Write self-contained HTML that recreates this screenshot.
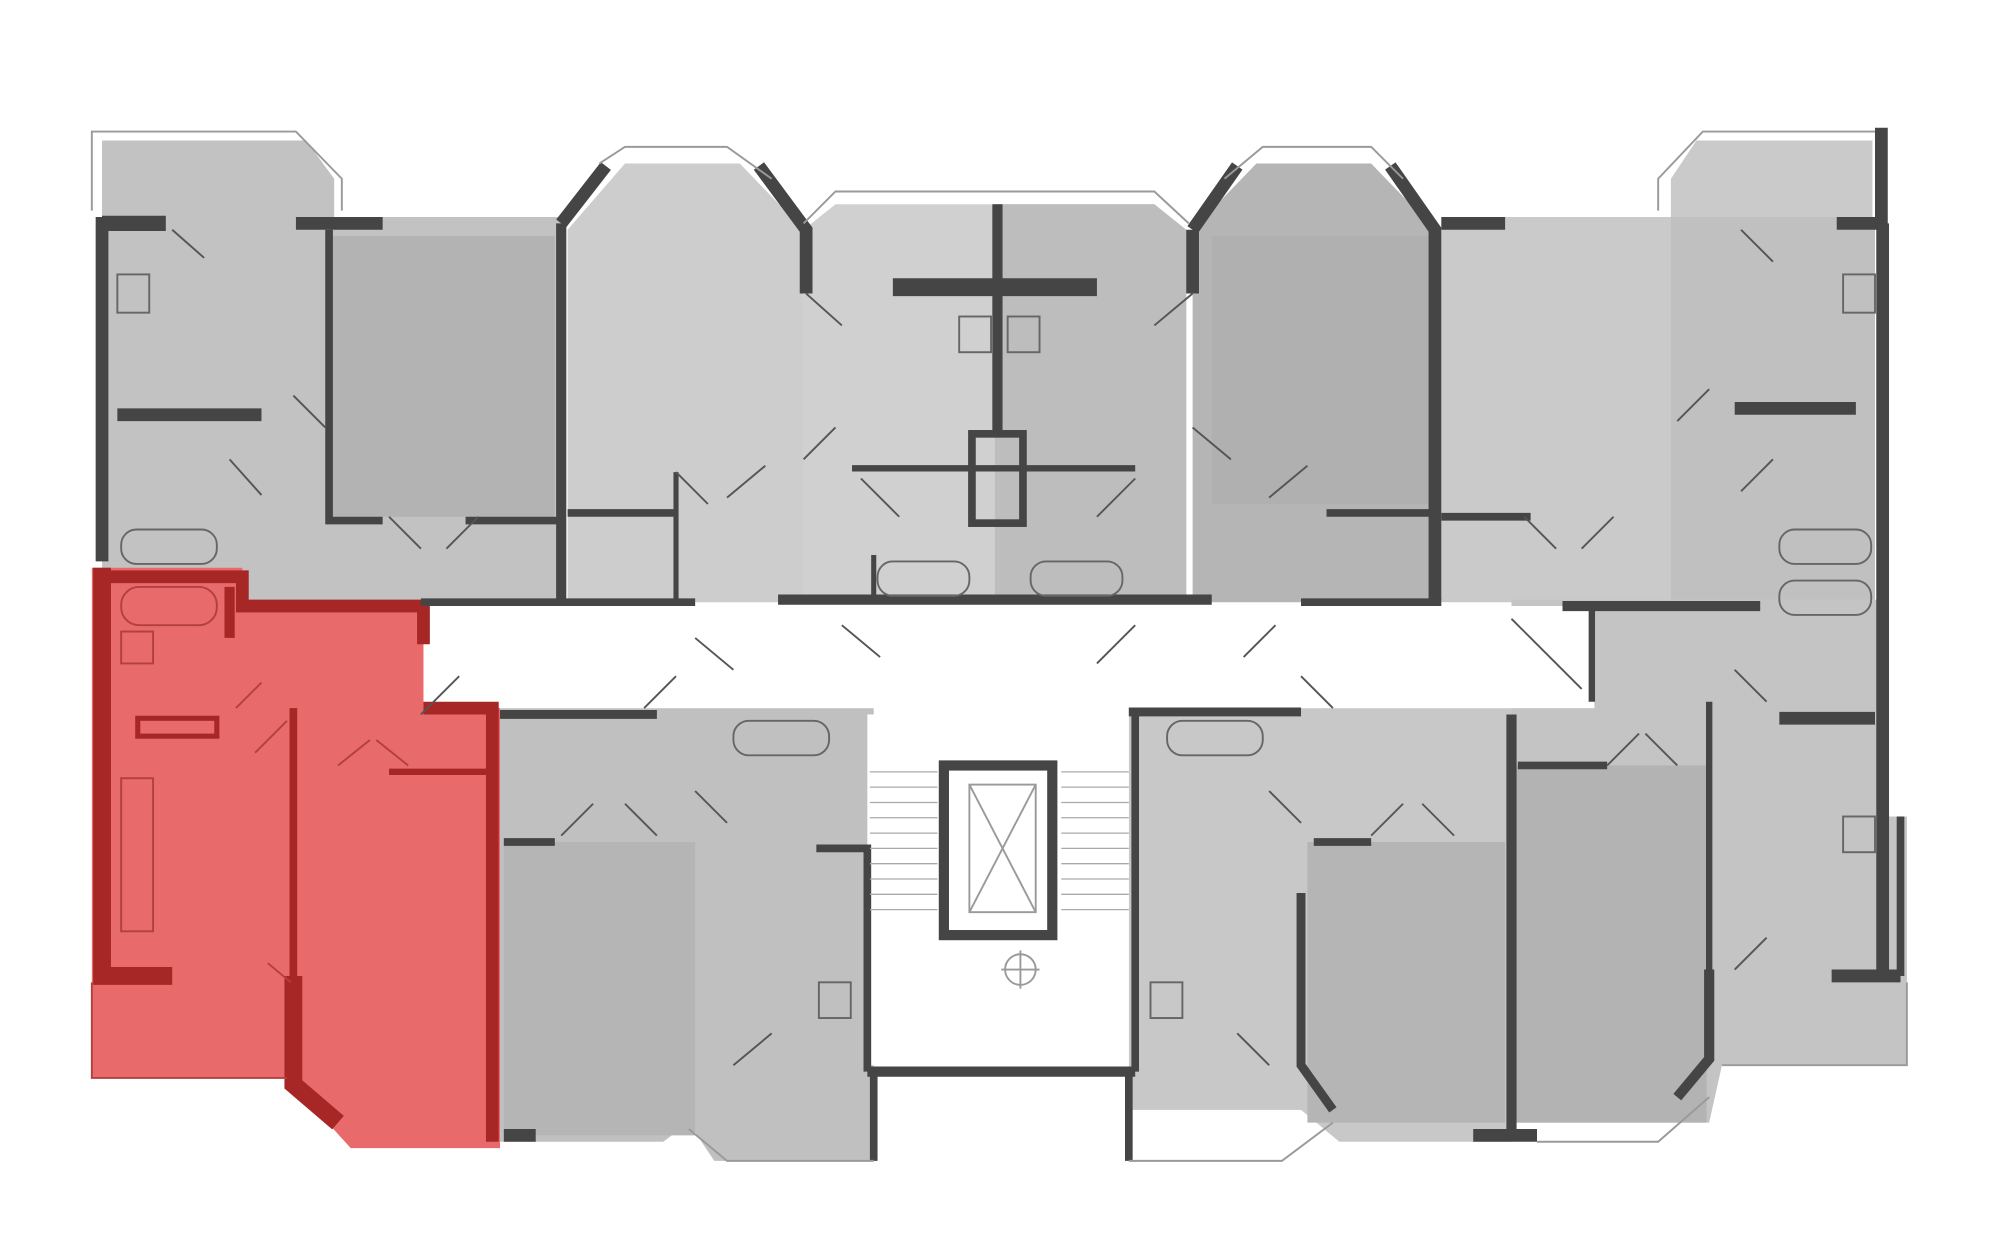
<!DOCTYPE html>
<html><head><meta charset="utf-8"><style>
html,body{margin:0;padding:0;background:#fff;width:2000px;height:1258px;overflow:hidden}
svg{display:block}
</style></head><body>
<svg width="2000" height="1258" viewBox="0 0 1568 986" xmlns="http://www.w3.org/2000/svg">
<rect width="1568" height="986" fill="#fff"/>
<g fill="#c2c2c2">
  <polygon points="80,110 240,110 262,140 262,170 440,170 440,472 80,472"/>
  <polygon points="445,180 490,128 580,128 630,180 630,472 445,472" fill="#cdcdcd"/>
  <polygon points="630,180 655,160 905,160 930,180 930,472 630,472" fill="#d0d0d0"/>
  <polygon points="780,160 905,160 930,180 930,472 780,472" fill="#bdbdbd"/>
  <polygon points="935,180 985,128 1075,128 1125,180 1125,472 935,472" fill="#b5b5b5"/>
  <polygon points="1130,170 1310,170 1310,140 1330,110 1468,110 1468,472 1130,472" fill="#cacaca"/>
  <rect x="1310" y="170" width="160" height="300" fill="#c0c0c0"/>
  <polygon points="392,555 685,555 685,910 560,910 540,880 520,895 392,895" fill="#c0c0c0"/>
  <rect x="395" y="660" width="150" height="230" fill="#b5b5b5"/>
  <polygon points="885,555 1185,555 1185,895 1050,895 1020,870 885,870" fill="#c8c8c8"/>
  <rect x="1025" y="660" width="155" height="220" fill="#b5b5b5"/>
  <polygon points="1185,470 1478,470 1478,640 1495,640 1495,835 1350,835 1340,880 1185,880" fill="#c4c4c4"/>
  <rect x="1188" y="600" width="150" height="280" fill="#b3b3b3"/>
  <rect x="260" y="185" width="175" height="220" fill="#b3b3b3"/>
</g>
<rect x="950" y="185" width="170" height="210" fill="#b0b0b0"/>
<polygon points="330,475 1250,475 1250,555 330,555" fill="#fff"/>
<rect x="680" y="560" width="205" height="275" fill="#fff"/>
<polygon points="72,445 190,445 190,475 332,475 332,555 392,555 392,900 275,900 225,845 72,845" fill="#e86a6a"/>
<g fill="none" stroke="#a72626">
  <polyline points="80,445 80,765 135,765" stroke-width="14"/>
  <polyline points="80,452 190,452 190,475 332,475 332,505" stroke-width="10"/>
  <polyline points="332,555 386,555 386,895" stroke-width="10"/>
  <line x1="230" y1="555" x2="230" y2="765" stroke-width="6"/>
  <polyline points="230,765 230,850 265,880" stroke-width="14"/>
  <polyline points="305,605 384,605" stroke-width="5"/>
  <rect x="108" y="563" width="62" height="14" stroke-width="4"/>
  <line x1="180" y1="460" x2="180" y2="500" stroke-width="8"/>
</g>
<g fill="none" stroke="#b24040" stroke-width="1.5">
  <rect x="95" y="460" width="75" height="30" rx="14"/>
  <rect x="95" y="495" width="25" height="25"/>
  <rect x="95" y="610" width="25" height="120"/>
  <polyline points="72,770 72,845 225,845"/>
  <line x1="185" y1="555" x2="205" y2="535"/>
  <line x1="200" y1="590" x2="225" y2="565"/>
  <line x1="265" y1="600" x2="290" y2="580"/>
  <line x1="295" y1="580" x2="320" y2="600"/>
  <line x1="210" y1="755" x2="228" y2="770"/>
</g>
<g fill="none" stroke="#454545" stroke-linejoin="miter">
  <polyline points="80,170 80,440" stroke-width="10"/>
  <polyline points="80,175 130,175" stroke-width="12"/>
  <polyline points="232,175 300,175 M390,175 440,175" stroke-width="10"/>
  <polyline points="258,180 258,408 300,408" stroke-width="6"/>
  <polyline points="365,408 438,408" stroke-width="6"/>
  <polyline points="440,175 440,470" stroke-width="8"/>
  <polyline points="440,175 475,130" stroke-width="10"/>
  <polyline points="595,130 632,180 632,230" stroke-width="10"/>
  <polyline points="445,402 528,402" stroke-width="6"/>
  <polyline points="530,370 530,470" stroke-width="4"/>
  <line x1="782" y1="160" x2="782" y2="340" stroke-width="8"/>
  <line x1="700" y1="225" x2="860" y2="225" stroke-width="14"/>
  <line x1="668" y1="367" x2="890" y2="367" stroke-width="5"/>
  <rect x="762" y="340" width="40" height="70" stroke-width="6"/>
  <polyline points="685,435 685,470 M880,435 880,470" stroke-width="4"/>
  <polyline points="610,470 950,470" stroke-width="8"/>
  <polyline points="935,180 970,130" stroke-width="10"/>
  <polyline points="1090,130 1125,180 1125,470" stroke-width="10"/>
  <polyline points="935,180 935,230" stroke-width="10"/>
  <polyline points="1040,402 1125,402" stroke-width="6"/>
  <polyline points="1130,175 1180,175 M1265,175 1360,175" stroke-width="10"/>
  <polyline points="1130,405 1200,405 M1265,405 1312,405 1312,185" stroke-width="6"/>
  <polyline points="1440,175 1475,175 1475,100" stroke-width="10"/>
  <polyline points="1476,175 1476,760" stroke-width="10"/>
  <polyline points="1436,765 1490,765" stroke-width="10"/>
  <polyline points="1490,640 1490,765" stroke-width="6"/>
  <polyline points="1225,475 1380,475" stroke-width="8"/>
  <polyline points="1248,475 1248,550" stroke-width="5"/>
  <line x1="330" y1="472" x2="545" y2="472" stroke-width="6"/>
  <line x1="1020" y1="472" x2="1130" y2="472" stroke-width="6"/>
  <line x1="1360" y1="320" x2="1455" y2="320" stroke-width="10"/>
  <line x1="1395" y1="563" x2="1470" y2="563" stroke-width="10"/>
  <line x1="92" y1="325" x2="205" y2="325" stroke-width="10"/>
  <polyline points="392,560 515,560 M560,558 685,558 685,665" stroke-width="7"/>
  <polyline points="395,660 435,660 M515,660 550,695 550,840 575,835 540,880" stroke-width="6"/>
  <polyline points="640,665 680,665 680,840" stroke-width="6"/>
  <polyline points="680,840 890,840" stroke-width="8"/>
  <polyline points="685,840 685,910" stroke-width="6"/>
  <polyline points="395,890 420,890" stroke-width="10"/>
  <polyline points="885,558 1020,558 M1045,558 1250,558" stroke-width="7"/>
  <polyline points="890,560 890,840" stroke-width="6"/>
  <polyline points="885,840 885,910" stroke-width="6"/>
  <polyline points="1185,560 1185,890" stroke-width="8"/>
  <polyline points="1020,700 1020,835 1045,870" stroke-width="7"/>
  <polyline points="1030,660 1075,660 M1140,660 1185,660" stroke-width="6"/>
  <polyline points="1155,890 1205,890" stroke-width="10"/>
  <polyline points="1340,760 1340,830 1315,860" stroke-width="8"/>
  <polyline points="1190,600 1260,600 M1280,600 1338,600" stroke-width="6"/>
  <polyline points="1340,550 1340,760" stroke-width="5"/>
  <rect x="740" y="600" width="85" height="133" stroke-width="8"/>
</g>
<!-- door swings -->
<g stroke="#555" stroke-width="1.5">
  <line x1="135" y1="180" x2="160" y2="202"/>
  <line x1="230" y1="310" x2="255" y2="335"/>
  <line x1="180" y1="360" x2="205" y2="388"/>
  <line x1="305" y1="405" x2="330" y2="430"/>
  <line x1="350" y1="430" x2="375" y2="405"/>
  <line x1="632" y1="230" x2="660" y2="255"/>
  <line x1="630" y1="360" x2="655" y2="335"/>
  <line x1="570" y1="390" x2="600" y2="365"/>
  <line x1="530" y1="370" x2="555" y2="395"/>
  <line x1="675" y1="375" x2="705" y2="405"/>
  <line x1="860" y1="405" x2="890" y2="375"/>
  <line x1="935" y1="230" x2="905" y2="255"/>
  <line x1="935" y1="335" x2="965" y2="360"/>
  <line x1="995" y1="390" x2="1025" y2="365"/>
  <line x1="1195" y1="405" x2="1220" y2="430"/>
  <line x1="1240" y1="430" x2="1265" y2="405"/>
  <line x1="1315" y1="330" x2="1340" y2="305"/>
  <line x1="1365" y1="385" x2="1390" y2="360"/>
  <line x1="1365" y1="180" x2="1390" y2="205"/>
  <line x1="330" y1="560" x2="360" y2="530"/>
  <line x1="505" y1="555" x2="530" y2="530"/>
  <line x1="545" y1="500" x2="575" y2="525"/>
  <line x1="660" y1="490" x2="690" y2="515"/>
  <line x1="860" y1="520" x2="890" y2="490"/>
  <line x1="975" y1="515" x2="1000" y2="490"/>
  <line x1="1020" y1="530" x2="1045" y2="555"/>
  <line x1="1185" y1="485" x2="1240" y2="540"/>
  <line x1="1360" y1="525" x2="1385" y2="550"/>
  <line x1="545" y1="620" x2="570" y2="645"/>
  <line x1="440" y1="655" x2="465" y2="630"/>
  <line x1="490" y1="630" x2="515" y2="655"/>
  <line x1="995" y1="620" x2="1020" y2="645"/>
  <line x1="1075" y1="655" x2="1100" y2="630"/>
  <line x1="1115" y1="630" x2="1140" y2="655"/>
  <line x1="1260" y1="600" x2="1285" y2="575"/>
  <line x1="1290" y1="575" x2="1315" y2="600"/>
  <line x1="1360" y1="760" x2="1385" y2="735"/>
  <line x1="575" y1="835" x2="605" y2="810"/>
  <line x1="970" y1="810" x2="995" y2="835"/>
</g>
<g fill="none" stroke="#9a9a9a" stroke-width="1.5">
  <polyline points="72,165 72,103 232,103 268,140 268,165"/>
  <polyline points="470,128 490,115 570,115 605,140"/>
  <polyline points="630,175 655,150 905,150 932,175"/>
  <polyline points="960,140 990,115 1075,115 1100,140"/>
  <polyline points="1300,165 1300,140 1335,103 1470,103"/>
  <polyline points="1495,770 1495,835 1350,835"/>
  <polyline points="540,885 570,910 685,910"/>
  <polyline points="885,910 1005,910 1045,880"/>
  <polyline points="1205,895 1300,895 1340,860"/>
  <line x1="760" y1="615" x2="812" y2="715"/>
  <line x1="812" y1="615" x2="760" y2="715"/>
  <rect x="760" y="615" width="52" height="100"/>
  <circle cx="800" cy="760" r="12"/>
  <line x1="785" y1="760" x2="815" y2="760"/><line x1="800" y1="745" x2="800" y2="775"/>
</g>
<g stroke="#aaa" stroke-width="1">
  <path d="M682,605H735M682,617H735M682,629H735M682,641H735M682,653H735M682,665H735M682,677H735M682,689H735M682,701H735M682,713H735"/>
  <path d="M832,605H885M832,617H885M832,629H885M832,641H885M832,653H885M832,665H885M832,677H885M832,689H885M832,701H885M832,713H885"/>
</g>
<g fill="none" stroke="#666" stroke-width="1.5">
  <rect x="95" y="415" width="75" height="27" rx="12"/>
  <rect x="688" y="440" width="72" height="27" rx="12"/>
  <rect x="808" y="440" width="72" height="27" rx="12"/>
  <rect x="575" y="565" width="75" height="27" rx="12"/>
  <rect x="915" y="565" width="75" height="27" rx="12"/>
  <rect x="1395" y="415" width="72" height="27" rx="12"/>
  <rect x="1395" y="455" width="72" height="27" rx="12"/>
  <rect x="92" y="215" width="25" height="30"/>
  <rect x="752" y="248" width="25" height="28"/>
  <rect x="790" y="248" width="25" height="28"/>
  <rect x="1445" y="215" width="25" height="30"/>
  <rect x="642" y="770" width="25" height="28"/>
  <rect x="902" y="770" width="25" height="28"/>
  <rect x="1445" y="640" width="25" height="28"/>
</g>
</svg>
</body></html>
